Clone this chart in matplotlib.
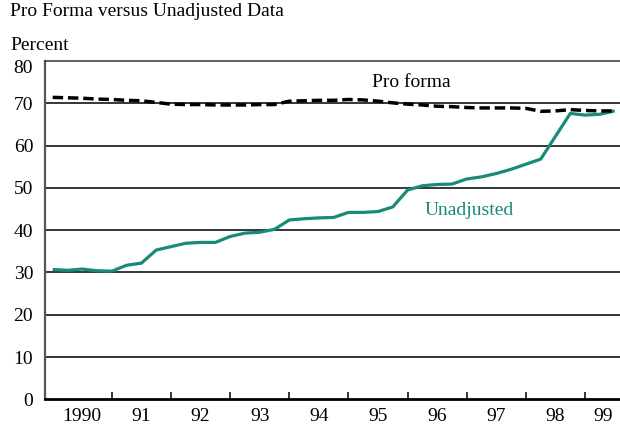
import matplotlib
matplotlib.use("Agg")
import matplotlib.pyplot as plt
import matplotlib.transforms as mtransforms
import numpy as np

# Quarterly data, 1990:Q1 - 1999:Q3
quarter_start = 1990.0
quarter_step = 0.25

pro_forma = [71.4, 71.3, 71.2, 71.0, 70.9, 70.7, 70.6, 70.2,
             69.8, 69.7, 69.7, 69.6, 69.6, 69.6, 69.7, 69.7,
             70.5, 70.6, 70.7, 70.7, 70.9, 70.8, 70.5, 70.1,
             69.8, 69.6, 69.3, 69.2, 69.0, 68.9, 68.9, 68.9,
             68.8, 68.1, 68.2, 68.5, 68.3, 68.2, 68.2]

unadjusted = [30.7, 30.5, 30.8, 30.4, 30.3, 31.7, 32.2, 35.3,
              36.1, 36.9, 37.1, 37.1, 38.5, 39.3, 39.5, 40.2,
              42.4, 42.7, 42.9, 43.0, 44.2, 44.2, 44.4, 45.5,
              49.5, 50.5, 50.8, 50.9, 52.1, 52.6, 53.4, 54.4,
              55.6, 56.8, 62.2, 67.6, 67.2, 67.4, 68.2]

year_labels = ["1990", "91", "92", "93", "94", "95", "96", "97", "98", "99"]
year_ticks = [1991, 1992, 1993, 1994, 1995, 1996, 1997, 1998, 1999]
y_ticks = [0, 10, 20, 30, 40, 50, 60, 70, 80]

title = "Pro Forma versus Unadjusted Data"
ylabel = "Percent"

plt.rcParams['font.family'] = ['Liberation Serif', 'DejaVu Serif']
FS = 14
TEAL = "#1a8a78"

x = quarter_start + quarter_step * np.arange(len(unadjusted))

fig = plt.figure(figsize=(6.2, 4.25), dpi=100)
ax = fig.add_axes([45/620, 1 - 399.3/425, 1 - 45/620, (399.3 - 61)/425])

for yv in y_ticks[1:-1]:
    ax.axhline(yv, color="black", lw=1.1, zorder=1)

ax.plot(x, unadjusted, color=TEAL, lw=2.3, zorder=3, solid_capstyle="butt")
ax.plot(x, pro_forma, color="black", lw=2.5, zorder=4, linestyle=(0, (3.0, 1.4)))

ax.set_xlim(1989.87, 1999.59)
ax.set_ylim(0, 80)

ax.set_yticks(y_ticks)
ax.set_yticklabels([str(v) for v in y_ticks], fontsize=FS)
ax.tick_params(axis="y", length=0, pad=8.5)
# top label sits a little below the frame line in the original
top_lab = ax.get_yticklabels()[-1]
top_lab.set_transform(top_lab.get_transform() +
                      mtransforms.ScaledTranslation(0, -6/100, fig.dpi_scale_trans))

ax.set_xticks(year_ticks)
ax.set_xticklabels([])
ax.tick_params(axis="x", which="major", direction="in", length=5, width=1.1, color="black")
label_pos = [yr + 0.5 for yr in range(1990, 1999)] + [1999.3]
ax.set_xticks(label_pos, minor=True)
ax.set_xticklabels(year_labels, minor=True, fontsize=FS)
ax.tick_params(axis="x", which="minor", length=0, pad=6)

ax.spines["right"].set_visible(False)
ax.spines["top"].set_linewidth(1.1)
ax.spines["top"].set_color("#333333")
ax.spines["left"].set_linewidth(1.6)
ax.spines["left"].set_color("#555555")
ax.spines["bottom"].set_linewidth(2.0)
ax.spines["bottom"].set_color("black")

ax.text(1994.0 + (372 - 289.1) / 59.16, 73.85, "Pro forma", fontsize=FS, color="black",
        ha="left", va="baseline")
ax.text(1995.0 + (424 - 348.3) / 59.16, 43.6, "Unadjusted", fontsize=FS, color=TEAL,
        ha="left", va="baseline")

fig.text(10/620, 1 - 12/425, title, fontsize=FS, ha="left", va="center")
fig.text(10/620, 1 - 45/425, ylabel, fontsize=FS, ha="left", va="center")

fig.savefig("out.png", dpi=100)
